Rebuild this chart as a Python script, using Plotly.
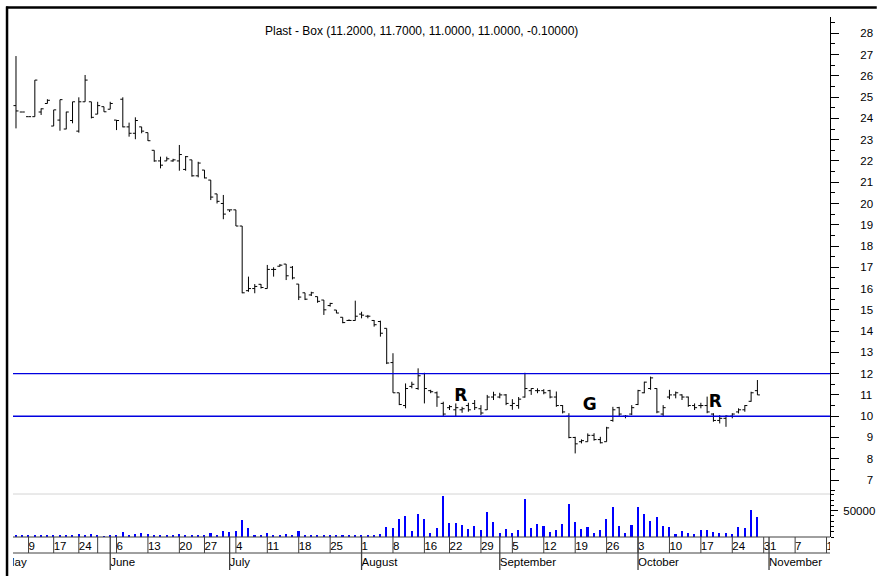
import plotly.graph_objects as go

# ---------------- data ----------------
day_index = list(range(119))

opens = [24.6, 24.3, 24.08, 24.08, 24.3, 24.7, 23.64, 23.92, 23.5, 23.9,
         23.4, 24.78, 24.78, 24.2, 24.55, 24.43, 23.92, 24.9, 23.6, 23.3,
         23.6, 23.33, 22.5, 22.0, 22.0, 22.0, 22.0, 21.6, 22.05, 21.3,
         21.57, 21.1, 20.45, 20.0, 19.7, 19.7, 18.94, 15.9, 16.0, 16.2,
         16.0, 16.9, 17.05, 17.15, 17.0, 16.21, 15.8, 15.7, 15.62, 15.46,
         15.2, 14.99, 14.65, 14.5, 14.5, 14.8, 14.7, 14.5, 14.45, 14.13,
         12.52, 11.1, 10.5, 11.4, 11.3, 12.0, 11.2, 11.1, 10.6, 10.4,
         10.3, 10.3, 10.5, 10.6, 10.35, 10.3, 10.9, 10.9, 11.0, 10.5,
         10.5, 10.9, 11.2, 11.2, 11.2, 11.2, 10.9, 10.5, 10.0, 9.0,
         8.8, 8.8, 9.1, 8.9, 8.8, 9.8, 10.4, 10.0, 10.1, 10.55,
         11.1, 11.3, 11.3, 10.1, 10.9, 11.0, 11.0, 10.9, 10.5, 10.5,
         10.5, 10.1, 9.8, 9.9, 10.0, 10.2, 10.3, 10.7, 11.2]
highs = [26.93, 24.3, 24.08, 25.8, 24.47, 24.9, 24.4, 24.88, 24.31, 24.78,
         24.99, 26.04, 24.78, 24.78, 24.55, 24.78, 23.92, 24.99, 23.8, 24.05,
         23.6, 23.33, 22.5, 22.2, 22.2, 22.1, 22.75, 22.23, 22.05, 21.96,
         21.57, 21.1, 20.45, 20.4, 19.7, 19.7, 18.94, 16.56, 16.21, 16.21,
         17.11, 17.0, 17.15, 17.15, 17.06, 16.21, 15.8, 15.85, 15.62, 15.46,
         15.33, 14.99, 14.65, 14.55, 15.43, 14.91, 14.76, 14.52, 14.49, 14.13,
         12.96, 11.1, 11.54, 11.62, 12.25, 12.04, 11.24, 11.16, 10.68, 10.52,
         10.6, 10.44, 10.63, 10.76, 10.52, 11.0, 11.15, 11.1, 11.04, 10.8,
         10.9, 12.04, 11.31, 11.31, 11.27, 11.24, 11.16, 10.52, 10.14, 9.03,
         8.91, 9.19, 9.2, 9.03, 9.5, 10.44, 10.44, 10.05, 10.52, 11.24,
         11.62, 11.86, 11.31, 10.52, 11.24, 11.16, 11.03, 10.92, 10.6, 10.63,
         10.92, 10.14, 10.05, 10.05, 10.14, 10.37, 10.52, 11.15, 11.7]
lows = [23.53, 24.3, 24.08, 24.08, 24.16, 24.7, 23.64, 23.42, 23.49, 23.77,
        23.33, 24.78, 24.0, 24.2, 24.31, 24.43, 23.45, 23.58, 23.14, 23.02,
        23.3, 22.94, 21.96, 21.65, 22.0, 21.96, 21.54, 21.54, 21.26, 21.23,
        21.18, 20.16, 20.0, 19.26, 19.6, 18.94, 15.78, 15.85, 15.78, 16.0,
        16.0, 16.56, 17.03, 16.4, 16.43, 15.46, 15.46, 15.65, 15.33, 14.76,
        15.15, 14.84, 14.37, 14.49, 14.49, 14.6, 14.6, 14.21, 13.74, 12.45,
        11.1, 10.52, 10.37, 11.31, 11.24, 10.6, 11.08, 10.44, 10.01, 10.29,
        9.98, 10.16, 10.21, 10.29, 10.05, 10.29, 10.76, 10.84, 10.52, 10.3,
        10.35, 10.87, 11.0, 11.08, 11.03, 10.84, 10.44, 10.13, 8.96, 8.25,
        8.72, 8.8, 8.85, 8.72, 8.8, 9.74, 9.98, 9.9, 10.05, 10.52,
        11.08, 11.24, 10.14, 9.98, 10.8, 10.84, 10.76, 10.44, 10.29, 10.37,
        10.14, 9.74, 9.66, 9.5, 9.9, 10.13, 10.21, 10.68, 11.0]
closes = [24.35, 24.3, 24.08, 25.8, 24.45, 24.85, 24.4, 24.88, 24.3, 24.78,
          24.78, 25.8, 24.05, 24.6, 24.31, 24.7, 23.9, 23.6, 23.3, 23.9,
          23.4, 22.95, 22.0, 21.8, 22.1, 22.05, 22.3, 22.2, 21.3, 21.9,
          21.2, 20.3, 20.1, 19.5, 19.7, 18.94, 15.8, 16.0, 16.1, 16.05,
          16.9, 16.9, 17.1, 16.6, 16.5, 15.6, 15.5, 15.8, 15.4, 15.0,
          15.3, 14.85, 14.4, 14.5, 14.7, 14.75, 14.7, 14.3, 13.9, 12.5,
          11.1, 10.55, 11.3, 11.5, 11.9, 11.3, 11.15, 10.9, 10.1, 10.45,
          10.4, 10.35, 10.3, 10.4, 10.15, 10.9, 11.0, 11.0, 10.6, 10.6,
          10.8, 11.3, 11.3, 11.2, 11.1, 10.9, 10.5, 10.2, 9.0, 8.7,
          8.85, 9.1, 8.9, 8.75, 9.45, 10.3, 10.1, 10.0, 10.4, 11.2,
          11.6, 11.8, 10.2, 10.4, 11.0, 11.1, 10.9, 10.5, 10.4, 10.5,
          10.2, 9.8, 9.9, 10.0, 10.1, 10.3, 10.5, 11.1, 11.0]
volume = [3200, 3200, 3200, 3200, 3200, 3200, 3200, 3200, 3200, 3200,
          5700, 3200, 5100, 3200, 1300, 3200, 3200, 8900, 3800, 5100,
          7000, 5100, 3200, 4400, 3200, 3200, 5100, 3200, 3200, 3200,
          3200, 7600, 3800, 10800, 9500, 10800, 31700, 17100, 3200, 3200,
          8200, 3200, 3200, 5100, 3200, 10800, 3200, 3200, 3200, 4400,
          3200, 3200, 3200, 3200, 4400, 4400, 4400, 4400, 5100, 19600,
          17100, 34800, 39300, 10800, 43700, 34800, 7600, 17100, 77300, 26000,
          26000, 22200, 14600, 21500, 13300, 48100, 27900, 7600, 14600, 7600,
          13300, 72200, 17100, 24100, 21500, 9500, 13300, 24100, 62100, 27900,
          14600, 19600, 7600, 13300, 33600, 56500, 21500, 7600, 23400, 56500,
          43700, 29800, 37400, 21500, 19600, 5700, 10800, 7600, 5700, 13300,
          13300, 8900, 7600, 7600, 5700, 19600, 17100, 51900, 37400]

week_pos = [2, 6, 10, 13, 16, 21, 26, 30, 35, 40, 45, 50, 55, 60, 65, 69,
            74, 79, 84, 89, 94, 99, 104, 109, 114, 119, 124, 129]
week_labels = ["9", "17", "24", "", "6", "13", "20", "27", "4", "11", "18",
               "25", "1", "8", "16", "22", "29", "5", "12", "19", "26", "3",
               "10", "17", "24", "31", "7", "14"]
month_pos = [-1.75, 15, 34, 55, 77, 99, 119.85]
month_labels = ["May", "June", "July", "August", "September", "October", "November"]

price_ticks = list(range(7, 29))
levels = [12, 10]
marks_x = [70.8, 91.3, 111.3]
marks_y = [10.93, 10.5, 10.64]
marks_text = ["R", "G", "R"]
title_text = "Plast - Box (11.2000, 11.7000, 11.0000, 11.0000, -0.10000)"

# ---------------- layout geometry (pixels) ----------------
W, H = 881, 576
PL, PR, PT, PB = 13, 834, 17, 570          # plot area
Y_SPLIT, Y_AXIS = 494, 537                 # price/volume split, date-axis top


def px_x(px):
    return (px - PL) / (PR - PL)


def px_y(py):
    return (PB - py) / (PB - PT)


FONT = "Liberation Sans, Arial, sans-serif"
x_range = [(PL - 16) / 6.314, (PR - 16) / 6.314]

fig = go.Figure()

fig.add_trace(go.Ohlc(
    x=day_index, open=opens, high=highs, low=lows, close=closes,
    increasing=dict(line=dict(color="black", width=1)),
    decreasing=dict(line=dict(color="black", width=1)),
    tickwidth=0.4, xaxis="x", yaxis="y", showlegend=False, hoverinfo="skip"))

fig.add_trace(go.Bar(
    x=day_index, y=volume, width=0.25, marker=dict(color="#0000ff", line=dict(width=0)),
    xaxis="x2", yaxis="y2", showlegend=False, hoverinfo="skip"))

# date strip labels (clipped by plot area like the original)
fig.add_trace(go.Scatter(
    x=week_pos, y=[23] * len(week_pos), text=week_labels, mode="text",
    textposition="middle right", textfont=dict(family=FONT, size=11.5, color="black"),
    xaxis="x3", yaxis="y3", showlegend=False, hoverinfo="skip", cliponaxis=True))
fig.add_trace(go.Scatter(
    x=month_pos, y=[7] * len(month_pos), text=month_labels, mode="text",
    textposition="middle right", textfont=dict(family=FONT, size=11.5, color="black"),
    xaxis="x3", yaxis="y3", showlegend=False, hoverinfo="skip", cliponaxis=True))

# R / G markers
fig.add_trace(go.Scatter(
    x=marks_x, y=marks_y, text=marks_text, mode="text",
    textfont=dict(family="DejaVu Sans, sans-serif", size=17, color="black"),
    texttemplate="<b>%{text}</b>",
    xaxis="x", yaxis="y", showlegend=False, hoverinfo="skip"))

shapes = []
# window frame
shapes.append(dict(type="line", xref="paper", yref="paper", x0=px_x(7), x1=px_x(7),
                   y0=px_y(6.5), y1=px_y(576), line=dict(color="black", width=2.5)))
shapes.append(dict(type="line", xref="paper", yref="paper", x0=px_x(6), x1=px_x(881),
                   y0=px_y(7.5), y1=px_y(7.5), line=dict(color="black", width=2.5)))
# support / resistance levels
for lv in levels:
    shapes.append(dict(type="line", xref="paper", yref="y", x0=0, x1=1, y0=lv, y1=lv,
                       line=dict(color="#0000e0", width=1.4)))
# panel separator
shapes.append(dict(type="line", xref="paper", yref="paper", x0=0, x1=1,
                   y0=px_y(Y_SPLIT), y1=px_y(Y_SPLIT), line=dict(color="#d4d4d4", width=1)))
# date axis lines
shapes.append(dict(type="line", xref="paper", yref="paper", x0=0, x1=1,
                   y0=px_y(Y_AXIS), y1=px_y(Y_AXIS), line=dict(color="#404040", width=1)))
shapes.append(dict(type="line", xref="paper", yref="y3", x0=0, x1=1,
                   y0=17, y1=17, line=dict(color="#404040", width=1)))
for wp in week_pos:
    shapes.append(dict(type="line", xref="x3", yref="y3", x0=wp, x1=wp, y0=17, y1=33,
                       line=dict(color="#404040", width=1)))
for mp in month_pos:
    shapes.append(dict(type="line", xref="x3", yref="y3", x0=mp, x1=mp, y0=0, y1=33,
                       line=dict(color="#404040", width=1.3)))

price_text = [("\u2007" + str(v)) if v < 10 else str(v) for v in price_ticks]

axis_common = dict(showgrid=False, zeroline=False)
fig.update_layout(
    width=W, height=H,
    margin=dict(l=PL, r=W - PR, t=PT, b=H - PB, pad=0),
    paper_bgcolor="white", plot_bgcolor="white",
    font=dict(family=FONT, size=11.5, color="black"),
    showlegend=False,
    bargap=0,
    xaxis=dict(domain=[0, 1], range=x_range, anchor="y", showticklabels=False,
               showline=False, ticks="", rangeslider=dict(visible=False), **axis_common),
    xaxis2=dict(domain=[0, 1], range=x_range, anchor="y2", showticklabels=False,
                showline=False, ticks="", **axis_common),
    xaxis3=dict(domain=[0, 1], range=x_range, anchor="y3", showticklabels=False,
                showline=False, ticks="", **axis_common),
    yaxis=dict(domain=[px_y(Y_SPLIT), 1], range=[6.342, 28.766], anchor="x", side="right",
               tickmode="array", tickvals=price_ticks, ticktext=price_text,
               ticks="outside", ticklen=8, tickwidth=1, tickcolor="black",
               showline=True, linecolor="black", linewidth=1,
               ticklabelstandoff=19,
               minor=dict(dtick=0.5, tick0=0, ticks="outside", ticklen=4, tickcolor="black"),
               tickfont=dict(family=FONT, size=11.5, color="black"), **axis_common),
    yaxis2=dict(domain=[px_y(Y_AXIS), px_y(Y_SPLIT)], range=[0, 81750], anchor="x2", side="right",
                tickmode="array", tickvals=[50000], ticktext=["50000"],
                ticks="outside", ticklen=7, tickwidth=1, tickcolor="black",
                showline=True, linecolor="black", linewidth=1,
                ticklabelstandoff=3,
                minor=dict(dtick=10000, tick0=0, ticks="outside", ticklen=3, tickcolor="black"),
                tickfont=dict(family=FONT, size=11.5, color="black"), **axis_common),
    yaxis3=dict(domain=[0, px_y(Y_AXIS)], range=[0, 33], anchor="x3", visible=False,
                **axis_common),
    shapes=shapes,
    annotations=[dict(text=title_text, xref="paper", yref="paper", x=0.5, y=px_y(31),
                      xanchor="center", yanchor="middle", showarrow=False,
                      font=dict(family=FONT, size=12, color="black"))],
)

fig.write_html("out.html", config={"displayModeBar": False},
               post_script="document.body.style.margin='0px';")
